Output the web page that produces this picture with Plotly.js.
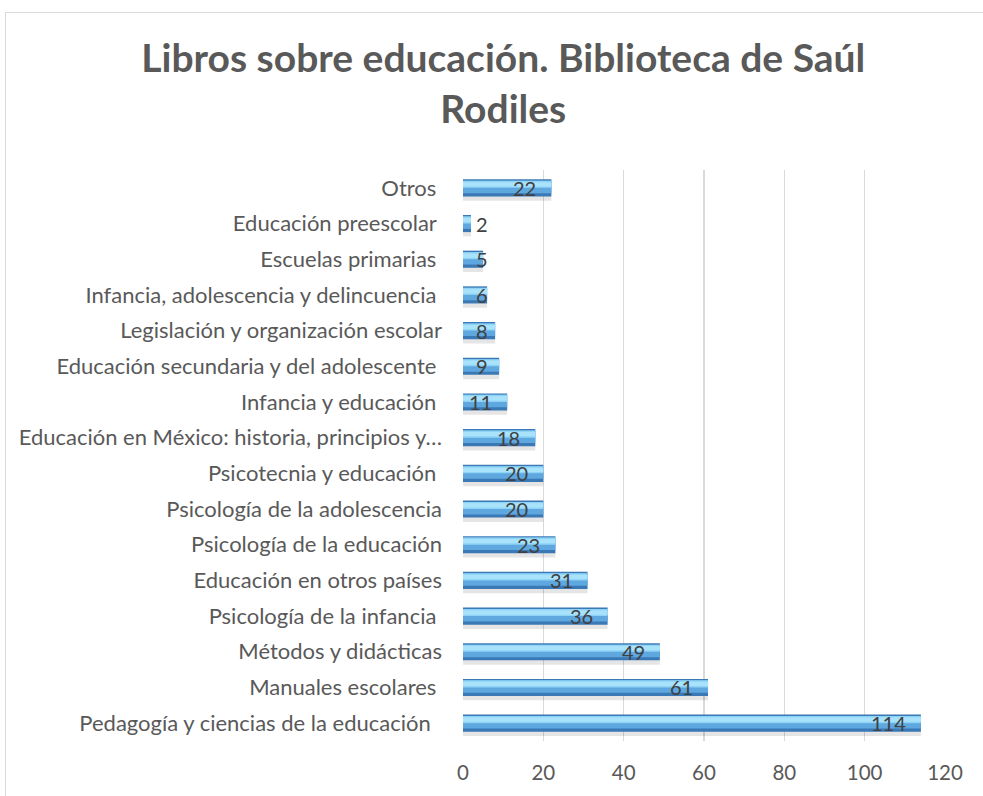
<!DOCTYPE html>
<html>
<head>
<meta charset="utf-8">
<script src="https://cdn.plot.ly/plotly-3.0.1.min.js"></script>
<style>
  html, body { margin: 0; padding: 0; background: #ffffff; }
  #frame { position: absolute; left: 5px; top: 12px; width: 1100px; height: 900px; border: 1px solid #d9d9d9; box-sizing: border-box; pointer-events: none; z-index: 2; }
  #chart { position: absolute; left: 0; top: 0; width: 983px; height: 796px; }
</style>
</head>
<body>
<div id="chart"></div>
<div id="frame"></div>
<script>
// Categories bottom-to-top (Plotly draws the first category at the bottom)
const categories = [
  "Pedagogía y ciencias de la educación\u00a0\u00a0",
  "Manuales escolares\u00a0",
  "Métodos y didácticas",
  "Psicología de la infancia\u00a0",
  "Educación en otros países",
  "Psicología de la educación",
  "Psicología de la adolescencia",
  "Psicotecnia y educación\u00a0",
  "Educación en México: historia, principios y…",
  "Infancia y educación\u00a0",
  "Educación secundaria y del adolescente\u00a0",
  "Legislación y organización escolar",
  "Infancia, adolescencia y delincuencia\u00a0",
  "Escuelas primarias\u00a0",
  "Educación preescolar\u00a0",
  "Otros\u00a0"
];
const values = [114, 61, 49, 36, 31, 23, 20, 20, 18, 11, 9, 8, 6, 5, 2, 22];
const xTicks = [0, 20, 40, 60, 80, 100, 120];
const chartTitle = "Libros sobre educación. Biblioteca de Saúl<br>Rodiles";

const FONT = "Lato, 'Open Sans', sans-serif";

const base = {
  type: "bar", orientation: "h", x: values, y: categories,
  hoverinfo: "skip", showlegend: false
};
// layered fills give the bevelled 3-D look of the original bars
const layers = [
  { color: "rgba(0,0,0,0.10)", offset: -0.36, width: 0.14 },
  { color: "#3a79b6", offset: -0.24, width: 0.48 },
  { color: "#5ea7df", offset: -0.15, width: 0.35 },
  { color: "#8fd3f6", offset: 0.0, width: 0.20 },
  { color: "#a9e3fb", offset: 0.04, width: 0.12 }
];
const traces = layers.map(l => Object.assign({}, base, {
  marker: { color: l.color, line: { width: 0 } }, width: l.width, offset: l.offset
}));

const annotations = values.map((v, i) => ({
  x: Math.max(v, 10), y: categories[i], xref: "x", yref: "y",
  text: String(v), showarrow: false, xanchor: "right", yanchor: "middle",
  xshift: -13, yshift: 0,
  font: { family: FONT, size: 20, color: "#404040" }
}));

const layout = {
  width: 983, height: 796,
  margin: { l: 463, r: 38, t: 170, b: 55 },
  paper_bgcolor: "#ffffff", plot_bgcolor: "#ffffff",
  barmode: "overlay",
  title: {
    text: chartTitle, x: 0.512, xanchor: "center", xref: "container",
    y: 0.909, yanchor: "middle",
    font: { family: FONT, size: 39, color: "#595959", weight: "bold" }
  },
  xaxis: {
    range: [0, 120], tickvals: xTicks, ticktext: xTicks.map(String),
    showgrid: true, gridcolor: "#d9d9d9", gridwidth: 1.5,
    zeroline: false, showline: false, ticks: "",
    ticklabelstandoff: 17,
    tickfont: { family: FONT, size: 20.5, color: "#595959" }
  },
  yaxis: {
    type: "category", range: [-0.5, 15.5],
    showgrid: false, zeroline: false, showline: false, ticks: "",
    ticklabelstandoff: 20,
    tickfont: { family: FONT, size: 22, color: "#595959" }
  },
  annotations: annotations
};

Plotly.newPlot("chart", traces, layout, { displayModeBar: false, staticPlot: true });
</script>
</body>
</html>
